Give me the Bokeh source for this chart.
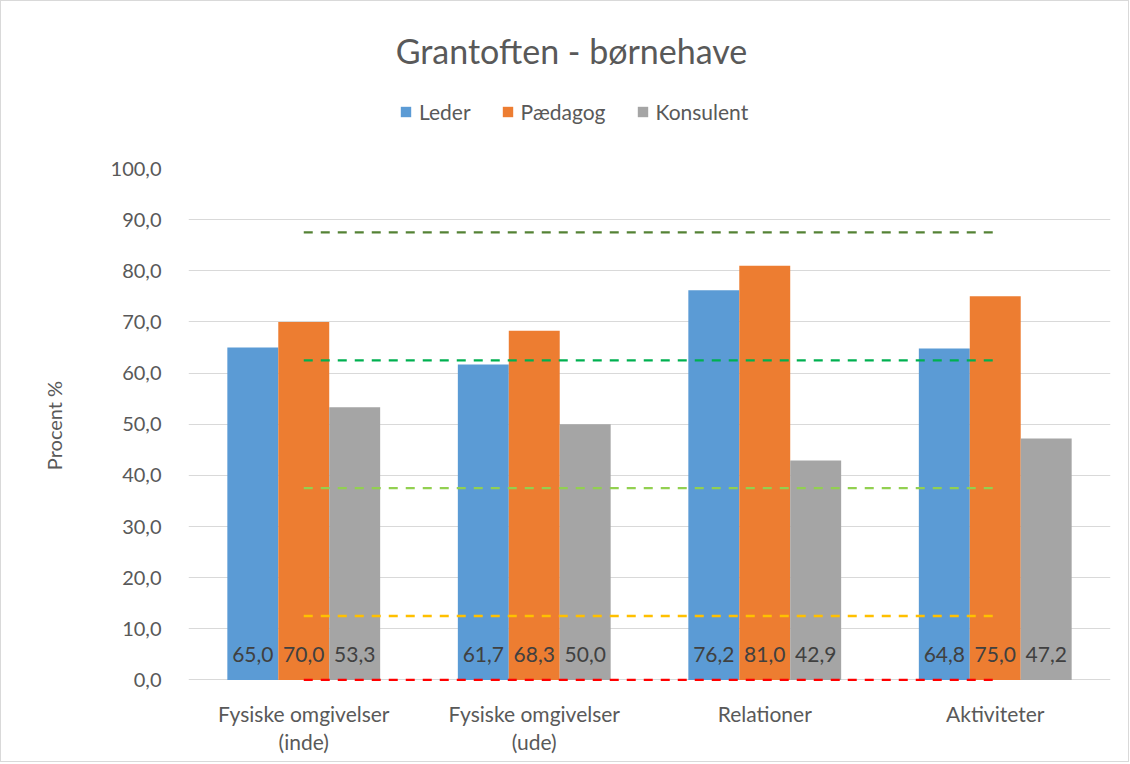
from bokeh.plotting import figure
from bokeh.layouts import column
from bokeh.models import (ColumnDataSource, Legend, LegendItem, FixedTicker, Range1d,
                          FactorRange, Label)
from bokeh.transform import dodge
from bokeh.embed import file_html
from bokeh.resources import INLINE
from bokeh.core.properties import value

categories = ["Fysiske omgivelser (inde)", "Fysiske omgivelser (ude)", "Relationer", "Aktiviteter"]
cat_line1 = ["Fysiske omgivelser", "Fysiske omgivelser", "Relationer", "Aktiviteter"]
cat_line2 = ["(inde)", "(ude)", "", ""]
leder = [65.0, 61.7, 76.2, 64.8]
paedagog = [70.0, 68.3, 81.0, 75.0]
konsulent = [53.3, 50.0, 42.9, 47.2]
series_names = ["Leder", "Pædagog", "Konsulent"]
ref_levels = [87.5, 62.5, 37.5, 12.5, 0.0]
ref_colors = ["#548235", "#00B050", "#92D050", "#FFC000", "#FF0000"]
y_ticks = [0, 10, 20, 30, 40, 50, 60, 70, 80, 90, 100]
title_text = "Grantoften - børnehave"

FONT = "Lato"
TXT = "#595959"
COLS = ["#5B9BD5", "#ED7D31", "#A5A5A5"]
W = 1127
LEFT, RIGHT = 187, 18
TOP_H = 153
MAIN_TOP = 14
MAIN_BOT = 14
BOT_H = 65


def fmt(v):
    return f"{v:.1f}".replace(".", ",")


xr = FactorRange(*categories, range_padding=0)

# ---------------- header (title + legend) ----------------
# frames of the column are aligned, so this frame spans the chart's plot area horizontally
top = figure(width=W, height=TOP_H, x_range=Range1d(LEFT, W - RIGHT), y_range=Range1d(TOP_H, 0),
             x_axis_location=None, y_axis_location=None, output_backend="svg",
             toolbar_location=None, min_border=0, min_border_left=LEFT, min_border_right=RIGHT)
top.grid.visible = False
top.outline_line_color = None
top.add_layout(Label(x=570, y=49, text=title_text, text_align="center", text_baseline="middle",
                     text_font=FONT, text_font_size="34px", text_color=TXT))
proxies = []
for c in COLS:
    # invisible proxy glyphs used only for the legend swatches
    proxies.append(top.vbar(x=[LEFT], top=[0], bottom=[0], width=0,
                            fill_color=c, line_color=None))
legend = Legend(items=[LegendItem(label=n, renderers=[r]) for n, r in zip(series_names, proxies)],
                orientation="horizontal", location=(211, 30),
                label_text_font=FONT, label_text_font_size="21px", label_text_color=TXT,
                glyph_width=13, glyph_height=13, spacing=30, label_standoff=7,
                border_line_color=None, background_fill_alpha=0, margin=0, padding=6)
top.add_layout(legend, "center")

# ---------------- main chart ----------------
src = ColumnDataSource(dict(
    cat=categories, leder=leder, paedagog=paedagog, konsulent=konsulent,
    l_lab=[fmt(v) for v in leder], p_lab=[fmt(v) for v in paedagog], k_lab=[fmt(v) for v in konsulent],
    lab_y=[5.0] * len(categories),
))

p = figure(x_range=xr, y_range=Range1d(-0.5, 100), width=W, frame_height=514,
           output_backend="svg", toolbar_location=None, x_axis_location=None,
           min_border_left=LEFT, min_border_right=RIGHT, min_border_bottom=MAIN_BOT,
           min_border_top=MAIN_TOP)

bw = 0.221
fields = ["leder", "paedagog", "konsulent"]
labs = ["l_lab", "p_lab", "k_lab"]
offs = [-bw, 0.0, bw]
for f, c, o, lb in zip(fields, COLS, offs, labs):
    p.vbar(x=dodge("cat", o, range=p.x_range), top=f, width=bw, source=src,
           fill_color=c, line_color=None)
    p.text(x=dodge("cat", o, range=p.x_range), y="lab_y", text=lb, source=src,
           text_align="center", text_baseline="middle", text_color="#404040",
           text_font=value(FONT), text_font_size="21px")

for lvl, c in zip(ref_levels, ref_colors):
    p.line(x=[categories[0], categories[-1]], y=[lvl, lvl], line_color=c,
           line_width=2.3, line_dash="9 8")

p.yaxis.ticker = FixedTicker(ticks=y_ticks)
p.yaxis.major_label_overrides = {t: fmt(t) for t in y_ticks}
p.yaxis.axis_line_color = None
p.yaxis.major_tick_line_color = None
p.yaxis.minor_tick_line_color = None
p.yaxis.major_label_text_font = FONT
p.yaxis.major_label_text_font_size = "20px"
p.yaxis.major_label_text_color = TXT
p.yaxis.major_label_standoff = 21
p.yaxis.axis_label = "Procent %"
p.yaxis.axis_label_text_font = FONT
p.yaxis.axis_label_text_font_size = "20px"
p.yaxis.axis_label_text_font_style = "normal"
p.yaxis.axis_label_text_color = TXT
p.yaxis.axis_label_standoff = 42

p.xgrid.grid_line_color = None
p.ygrid.grid_line_color = "#D9D9D9"
p.ygrid.grid_line_width = 1
p.outline_line_color = None

# ---------------- category labels ----------------
bot = figure(x_range=xr, y_range=Range1d(BOT_H, 0), width=W, height=BOT_H,
             x_axis_location=None, y_axis_location=None, output_backend="svg",
             toolbar_location=None, min_border_left=LEFT, min_border_right=RIGHT,
             min_border_top=0, min_border_bottom=0)
bot.grid.visible = False
bot.outline_line_color = None
bot.text(x=categories, y=[17] * len(categories), text=cat_line1, text_align="center",
         text_baseline="middle", text_font=value(FONT), text_font_size="21px", text_color=TXT)
two = [(c, l2) for c, l2 in zip(categories, cat_line2) if l2]
bot.text(x=[c for c, _ in two], y=[45] * len(two), text=[l for _, l in two], text_align="center",
         text_baseline="middle", text_font=value(FONT), text_font_size="21px", text_color=TXT)

layout = column(top, p, bot, spacing=0)
layout.styles = {"border": "1px solid #D9D9D9"}

open("out.html", "w").write(file_html(layout, INLINE))
